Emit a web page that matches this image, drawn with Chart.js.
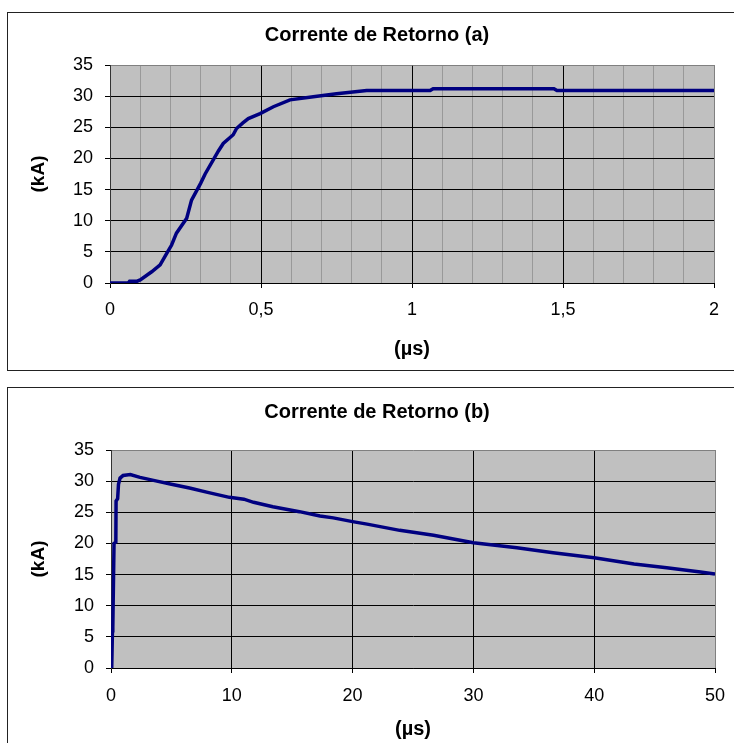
<!DOCTYPE html>
<html>
<head>
<meta charset="utf-8">
<script src="https://cdn.jsdelivr.net/npm/chart.js@4.4.1/dist/chart.umd.min.js"></script>
<style>
    html, body { margin: 0; padding: 0; background: #fff; overflow: hidden; }
    body { width: 734px; height: 743px; position: relative; }
    canvas { position: absolute; left: 0; }
    .frame { position: absolute; left: 7px; width: 800px; box-sizing: border-box; border: 1px solid #222; pointer-events: none; }
</style>
</head>
<body>
<canvas id="chartA" width="734" height="372" style="top:0"></canvas>
<canvas id="chartB" width="734" height="371" style="top:372px"></canvas>
<div class="frame" style="top:12px; height:359px"></div>
<div class="frame" style="top:387px; height:400px"></div>
<script>
// (a) front of the return stroke, 0..2 us
const timeA = [0, 0.06, 0.065, 0.09, 0.10, 0.138, 0.166, 0.185, 0.204, 0.22, 0.254, 0.27, 0.30, 0.315, 0.34, 0.359,
    0.375, 0.408, 0.419, 0.44, 0.458, 0.497, 0.541, 0.596, 0.673, 0.75, 0.85, 1.06, 1.07, 1.47, 1.48, 2.0];
const currentA = [0, 0, 0.3, 0.3, 0.5, 1.8, 2.9, 4.5, 6.1, 8.0, 10.4, 13.3, 16.0, 17.5, 19.6, 21.2,
    22.4, 23.8, 24.8, 25.7, 26.4, 27.2, 28.3, 29.4, 29.9, 30.4, 30.9, 30.9, 31.2, 31.2, 30.9, 30.9];

// (b) full waveform, 0..50 us
const timeB = [0.06, 0.12, 0.15, 0.25, 0.40, 0.42, 0.55, 0.62, 0.75, 1.0, 1.6, 2.4, 3.8, 5.0, 6.5, 8.0, 9.8,
    11.0, 11.8, 13.4, 15.6, 17.3, 18.4, 20.0, 21.2, 23.9, 26.7, 30.0, 33.6, 36.6, 40.0, 43.3, 46.0, 48.8, 50.0];
const currentB = [0, 6.0, 6.5, 20.0, 20.2, 26.8, 27.2, 29.5, 30.5, 30.9, 31.05, 30.6, 30.0, 29.5, 28.9, 28.2, 27.4,
    27.1, 26.6, 25.9, 25.1, 24.4, 24.1, 23.5, 23.1, 22.1, 21.3, 20.1, 19.3, 18.5, 17.7, 16.7, 16.1, 15.4, 15.1];

const yTicks = [0, 5, 10, 15, 20, 25, 30, 35];

Chart.defaults.font.family = "'Liberation Sans', Arial, sans-serif";
Chart.defaults.color = '#000';

// grey plot area behind everything
const plotBackground = {
    id: 'plotBackground',
    beforeDraw(chart) {
        const a = chart.chartArea;
        chart.ctx.save();
        chart.ctx.fillStyle = '#c0c0c0';
        chart.ctx.fillRect(a.left, a.top, a.right - a.left, a.bottom - a.top);
        chart.ctx.restore();
    }
};

function toPoints(xs, ys) {
    return xs.map((x, i) => ({x: x, y: ys[i]}));
}

function makeChart(id, cfg) {
    const ctx = document.getElementById(id).getContext('2d');
    const yMax = yTicks[yTicks.length - 1];

    return new Chart(ctx, {
        type: 'line',
        data: {
            datasets: [{
                data: toPoints(cfg.xs, cfg.ys),
                borderColor: '#000080',
                borderWidth: 3.5,
                pointRadius: 0,
                tension: 0,
                fill: false
            }]
        },
        plugins: [plotBackground],
        options: {
            responsive: false,
            animation: false,
            events: [],
            layout: {padding: {left: 20, right: 0, top: 0, bottom: 0}},
            plugins: {
                legend: {display: false},
                tooltip: {enabled: false},
                title: {
                    display: true,
                    text: cfg.title,
                    color: '#000',
                    font: {size: 20, weight: 'bold'},
                    padding: {top: cfg.titleTop, bottom: cfg.titleBottom}
                }
            },
            scales: {
                x: {
                    type: 'linear',
                    min: 0,
                    max: cfg.xMax,
                    afterFit: s => { s.height = cfg.xHeight; s.paddingRight = cfg.rightGap; },
                    ticks: {
                        stepSize: cfg.xStep,
                        autoSkip: false,
                        maxRotation: 0,
                        padding: cfg.xTickPad,
                        font: {size: 18},
                        callback: v => cfg.isMajor(v) ? String(Math.round(v * 10) / 10).replace('.', ',') : ''
                    },
                    grid: {
                        tickLength: 5,
                        color: c => {
                            const v = c.tick.value;
                            if (Math.abs(v - cfg.xMax) < 1e-6) return '#808080';
                            return cfg.isMajor(v) ? '#000' : '#999';
                        },
                        tickColor: c => cfg.isMajor(c.tick.value) ? '#000' : 'rgba(0,0,0,0)'
                    },
                    border: {color: '#000'},
                    title: {
                        display: true,
                        text: '(\u00b5s)',
                        font: {size: 20, weight: 'bold'},
                        padding: {top: 0, bottom: cfg.xTitleBottom}
                    }
                },
                y: {
                    min: 0,
                    max: yMax,
                    afterFit: s => { s.width = cfg.yWidth; },
                    afterBuildTicks: s => { s.ticks = yTicks.map(v => ({value: v})); },
                    ticks: {padding: 12, font: {size: 18}},
                    grid: {
                        tickLength: 5,
                        color: c => c.tick.value === yMax ? '#808080' : '#000',
                        tickColor: '#000'
                    },
                    border: {color: '#333'},
                    title: {
                        display: true,
                        text: '(kA)',
                        font: {size: 19, weight: 'bold'},
                        padding: {top: 7, bottom: 0}
                    }
                }
            }
        }
    });
}

makeChart('chartA', {
    title: 'Corrente de Retorno (a)',
    xs: timeA, ys: currentA,
    xMax: 2, xStep: 0.1,
    isMajor: v => Math.round(v * 10) % 5 === 0,
    titleTop: 23, titleBottom: 18,
    xHeight: 89, xTickPad: 11, xTitleBottom: 11,
    yWidth: 90, rightGap: 20
});

makeChart('chartB', {
    title: 'Corrente de Retorno (b)',
    xs: timeB, ys: currentB,
    xMax: 50, xStep: 10,
    isMajor: v => true,
    titleTop: 28, titleBottom: 26,
    xHeight: 75, xTickPad: 12, xTitleBottom: 2,
    yWidth: 91, rightGap: 19
});
</script>
</body>
</html>
